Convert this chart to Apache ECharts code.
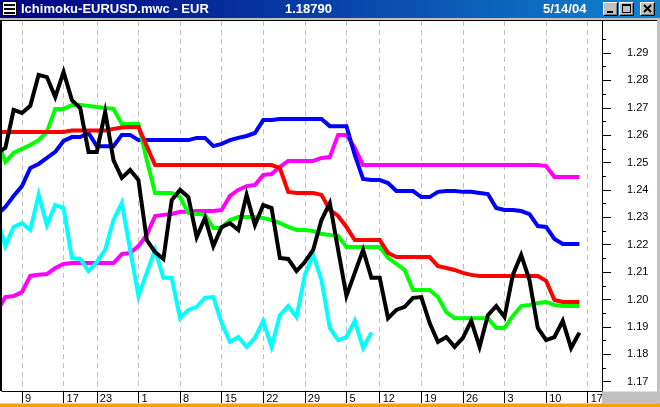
<!DOCTYPE html>
<html><head><meta charset="utf-8">
<script src="https://cdn.jsdelivr.net/npm/echarts@6/dist/echarts.min.js"></script>
<style>html,body{margin:0;padding:0;background:#fff;overflow:hidden}#c{width:660px;height:407px}</style>
</head><body><div id="c"></div>
<script>
// ---- data ----
const firstBar = -3; // bar index of the first value in each series
const tickBars = [0, 5, 9, 14, 19, 24, 29, 34, 39, 43, 48, 53, 58, 63, 68];
const tickLabels = ['9', '17', '23', '1', '8', '15', '22', '29', '5', '12', '19', '26', '3', '10', '17'];
const priceTicks = ['1.17','1.18','1.19','1.20','1.21','1.22','1.23','1.24','1.25','1.26','1.27','1.28','1.29'];
const titleText = 'Ichimoku-EURUSD.mwc - EUR';
const lastPrice = '1.18790';
const dateText = '5/14/04';

const closePrice = [1.2535,1.2553,1.2692,1.2681,1.2707,1.2820,1.2812,1.2739,1.2831,1.2728,1.2699,1.2539,1.2539,1.2685,1.2509,1.2444,1.2473,1.2436,1.2217,1.2173,1.2148,1.2363,1.2400,1.2374,1.2228,1.2298,1.2195,1.2265,1.2279,1.2254,1.2382,1.2272,1.2345,1.2334,1.2152,1.2148,1.2104,1.2137,1.2181,1.2290,1.2352,1.2181,1.2013,1.2097,1.2181,1.2079,1.2079,1.1932,1.1962,1.1973,1.2006,1.2009,1.1914,1.1845,1.1863,1.1827,1.1860,1.1922,1.1827,1.1943,1.1976,1.1936,1.2090,1.2163,1.2071,1.1896,1.1852,1.1863,1.1922,1.1823,1.1879];
const chikou = [1.2298,1.2195,1.2265,1.2279,1.2254,1.2382,1.2272,1.2345,1.2334,1.2152,1.2148,1.2104,1.2137,1.2181,1.2290,1.2352,1.2181,1.2013,1.2097,1.2181,1.2079,1.2079,1.1932,1.1962,1.1973,1.2006,1.2009,1.1914,1.1845,1.1863,1.1827,1.1860,1.1922,1.1827,1.1943,1.1976,1.1936,1.2090,1.2163,1.2071,1.1896,1.1852,1.1863,1.1922,1.1823,1.1879];
const tenkan = [1.2582,1.2502,1.2535,1.2550,1.2564,1.2582,1.2612,1.2696,1.2696,1.2710,1.2710,1.2707,1.2703,1.2699,1.2696,1.2641,1.2641,1.2641,1.2509,1.2389,1.2389,1.2389,1.2374,1.2316,1.2312,1.2309,1.2261,1.2261,1.2290,1.2301,1.2301,1.2301,1.2298,1.2290,1.2279,1.2265,1.2254,1.2254,1.2250,1.2239,1.2236,1.2232,1.2192,1.2192,1.2192,1.2192,1.2192,1.2152,1.2130,1.2108,1.2035,1.2035,1.2035,1.2009,1.1954,1.1932,1.1932,1.1932,1.1932,1.1932,1.1896,1.1896,1.1940,1.1976,1.1980,1.1987,1.1991,1.1980,1.1976,1.1976,1.1976];
const kijun = [1.2612,1.2612,1.2612,1.2612,1.2612,1.2612,1.2612,1.2612,1.2612,1.2617,1.2617,1.2617,1.2617,1.2617,1.2623,1.2628,1.2630,1.2630,1.2560,1.2491,1.2491,1.2491,1.2491,1.2491,1.2491,1.2491,1.2491,1.2491,1.2491,1.2491,1.2491,1.2491,1.2491,1.2491,1.2480,1.2393,1.2389,1.2389,1.2389,1.2382,1.2327,1.2305,1.2265,1.2217,1.2217,1.2217,1.2217,1.2170,1.2155,1.2155,1.2155,1.2155,1.2155,1.2122,1.2115,1.2108,1.2097,1.2090,1.2086,1.2086,1.2086,1.2086,1.2086,1.2086,1.2086,1.2086,1.2068,1.1998,1.1991,1.1991,1.1991];
const spanA = [1.2309,1.2338,1.2378,1.2414,1.2480,1.2495,1.2517,1.2539,1.2579,1.2593,1.2593,1.2608,1.2560,1.2560,1.2560,1.2601,1.2601,1.2582,1.2582,1.2582,1.2582,1.2582,1.2582,1.2582,1.2590,1.2590,1.2560,1.2568,1.2582,1.2590,1.2597,1.2608,1.2655,1.2655,1.2659,1.2659,1.2659,1.2659,1.2659,1.2659,1.2633,1.2633,1.2633,1.2528,1.2440,1.2436,1.2436,1.2425,1.2396,1.2396,1.2396,1.2374,1.2374,1.2393,1.2396,1.2396,1.2393,1.2393,1.2389,1.2385,1.2334,1.2327,1.2327,1.2323,1.2312,1.2268,1.2265,1.2221,1.2203,1.2203,1.2203];
const spanB = [1.1958,1.2009,1.2013,1.2027,1.2086,1.2090,1.2093,1.2115,1.2130,1.2133,1.2133,1.2133,1.2133,1.2133,1.2133,1.2166,1.2170,1.2195,1.2236,1.2305,1.2309,1.2312,1.2320,1.2320,1.2323,1.2323,1.2323,1.2327,1.2378,1.2400,1.2414,1.2418,1.2455,1.2458,1.2484,1.2506,1.2506,1.2506,1.2506,1.2517,1.2520,1.2601,1.2601,1.2553,1.2491,1.2491,1.2491,1.2491,1.2491,1.2491,1.2491,1.2491,1.2491,1.2491,1.2491,1.2491,1.2491,1.2491,1.2491,1.2491,1.2491,1.2491,1.2491,1.2491,1.2491,1.2491,1.2487,1.2447,1.2447,1.2447,1.2447];

// ---- layout ----
const PX_PER_BAR = 8.32, PX_PER_UNIT = 2739; // px per 1.0 price
const plotL = 2, plotT = 21, plotW = 600, plotH = 370;
const xMin = -2.4, xMax = xMin + plotW / PX_PER_BAR;
const yTopVal = 1.29 + 32 / PX_PER_UNIT, yBotVal = 1.29 - 338 / PX_PER_UNIT;

const pairs = arr => arr.map((v, i) => [firstBar + i, v]);
const lineSeries = (name, arr, color) => ({
  name, type: 'line', data: pairs(arr), xAxisIndex: 0, yAxisIndex: 0,
  showSymbol: false, symbol: 'none', clip: true, animation: false,
  lineStyle: { color, width: 4, cap: 'butt', join: 'miter' }
});

const chart = echarts.init(document.getElementById('c'), null, { renderer: 'canvas' });
const grad = new echarts.graphic.LinearGradient(0, 0, 1, 0, [
  { offset: 0, color: '#000080' }, { offset: 1, color: '#1084d0' }]);
const FONT = '"Liberation Sans", Arial, sans-serif';
function button(x, glyph) {
  const g = [
    { type: 'rect', shape: { x: x, y: 2, width: 15, height: 14 }, style: { fill: '#c0c0c0' } },
    { type: 'polyline', shape: { points: [[x + 0.5, 15.5], [x + 0.5, 2.5], [x + 14.5, 2.5]] }, style: { stroke: '#fff', lineWidth: 1, fill: null } },
    { type: 'polyline', shape: { points: [[x + 0.5, 15.5], [x + 14.5, 15.5], [x + 14.5, 2.5]] }, style: { stroke: '#000', lineWidth: 1, fill: null } },
    { type: 'polyline', shape: { points: [[x + 1.5, 14.5], [x + 13.5, 14.5], [x + 13.5, 3.5]] }, style: { stroke: '#808080', lineWidth: 1, fill: null } }
  ];
  return g.concat(glyph);
}
const graphics = [
  { type: 'rect', shape: { x: 0, y: 0, width: 660, height: 18 }, style: { fill: grad } },
  { type: 'rect', shape: { x: 0, y: 18, width: 660, height: 2 }, style: { fill: '#c0c0c0' } },
  { type: 'rect', shape: { x: 0, y: 20, width: 660, height: 1 }, style: { fill: '#000' } },
  // icon
  { type: 'rect', shape: { x: 2.5, y: 1.5, width: 14, height: 14 }, style: { fill: '#fff', stroke: '#000', lineWidth: 1 } },
  { type: 'rect', shape: { x: 4, y: 4, width: 11, height: 2 }, style: { fill: '#000' } },
  { type: 'rect', shape: { x: 4, y: 8, width: 11, height: 2 }, style: { fill: '#000' } },
  { type: 'rect', shape: { x: 4, y: 12, width: 11, height: 2 }, style: { fill: '#000' } },
  { type: 'text', x: 21, y: 9, style: { text: titleText, fill: '#fff', font: 'bold 13px ' + FONT, verticalAlign: 'middle' } },
  { type: 'text', x: 285, y: 9, style: { text: lastPrice, fill: '#fff', font: 'bold 13px ' + FONT, verticalAlign: 'middle' } },
  { type: 'text', x: 543, y: 9, style: { text: dateText, fill: '#fff', font: 'bold 13px ' + FONT, verticalAlign: 'middle' } },
  ...button(603, [{ type: 'rect', shape: { x: 607, y: 11, width: 6, height: 2 }, style: { fill: '#000' } }]),
  ...button(619, [{ type: 'rect', shape: { x: 622.5, y: 4.5, width: 8, height: 8 }, style: { fill: null, stroke: '#000', lineWidth: 1 } },
                  { type: 'rect', shape: { x: 622, y: 4, width: 9, height: 2 }, style: { fill: '#000' } }]),
  ...button(640, [{ type: 'line', shape: { x1: 644, y1: 5, x2: 651, y2: 12 }, style: { stroke: '#000', lineWidth: 2 } },
                  { type: 'line', shape: { x1: 651, y1: 5, x2: 644, y2: 12 }, style: { stroke: '#000', lineWidth: 2 } }]),
  // frame
  { type: 'rect', shape: { x: 0, y: 21, width: 2, height: 370 }, style: { fill: '#000' } },
  { type: 'rect', shape: { x: 657, y: 18, width: 3, height: 389 }, style: { fill: '#c0c0c0' } },
  { type: 'rect', shape: { x: 602, y: 391.5, width: 55, height: 12 }, style: { fill: '#c0c0c0' } },
  { type: 'rect', shape: { x: 0, y: 403.5, width: 660, height: 4 }, style: { fill: '#f5a000' } }
].map(e => Object.assign({ z: 100, silent: true }, e));

const option = {
  backgroundColor: '#fff',
  animation: false,
  grid: [
    { left: plotL, top: plotT, width: plotW, height: plotH },
    { left: plotL, top: 53, width: plotW, height: 0.12 * PX_PER_UNIT },
    { left: plotL, top: 53 - 0.005 * PX_PER_UNIT, width: plotW, height: 0.12 * PX_PER_UNIT }
  ],
  xAxis: [
    { type: 'value', gridIndex: 0, min: xMin, max: xMax,
      axisLine: { show: true, onZero: false, lineStyle: { color: '#000', width: 1 } },
      axisTick: { show: true, inside: false, length: 12, customValues: tickBars, lineStyle: { color: '#000', width: 1 } },
      axisLabel: { show: true, customValues: tickBars, align: 'left', verticalAlign: 'top', margin: 2, padding: [0, 0, 0, 3],
        color: '#000', fontSize: 11, fontFamily: FONT,
        formatter: v => { const k = tickBars.indexOf(Math.round(v)); return k >= 0 ? tickLabels[k] : ''; } },
      splitLine: { show: true, lineStyle: { color: '#c0c0c0', width: 1, type: [5, 4] } } },
    { type: 'value', gridIndex: 1, show: false, min: 0, max: 1 },
    { type: 'value', gridIndex: 2, show: false, min: 0, max: 1 }
  ],
  yAxis: [
    { type: 'value', gridIndex: 0, position: 'right', min: yBotVal, max: yTopVal,
      axisLine: { show: true, onZero: false, lineStyle: { color: '#000', width: 1 } },
      axisTick: { show: false }, axisLabel: { show: false }, splitLine: { show: false } },
    { type: 'value', gridIndex: 1, position: 'right', min: 1.17, max: 1.29, interval: 0.01,
      axisLine: { show: false, onZero: false }, splitLine: { show: false },
      axisTick: { show: true, inside: false, length: 9, lineStyle: { color: '#000', width: 1 } },
      axisLabel: { show: true, margin: 25, color: '#000', fontSize: 11, fontFamily: FONT,
        formatter: v => { const k = Math.round((v - 1.17) * 100); return priceTicks[k] || ''; } } },
    { type: 'value', gridIndex: 2, position: 'right', min: 1.175, max: 1.295, interval: 0.01,
      axisLine: { show: false, onZero: false }, splitLine: { show: false }, axisLabel: { show: false },
      axisTick: { show: true, inside: false, length: 4, lineStyle: { color: '#000', width: 1 } } }
  ],
  series: [
    lineSeries('Senkou B', spanB, '#ff00ff'),
    lineSeries('Senkou A', spanA, '#0000ff'),
    lineSeries('Chikou', chikou, '#00ffff'),
    lineSeries('Tenkan', tenkan, '#00ff00'),
    lineSeries('Kijun', kijun, '#ff0000'),
    lineSeries('Close', closePrice, '#000000')
  ],
  graphic: { elements: graphics }
};
chart.setOption(option);
</script></body></html>
